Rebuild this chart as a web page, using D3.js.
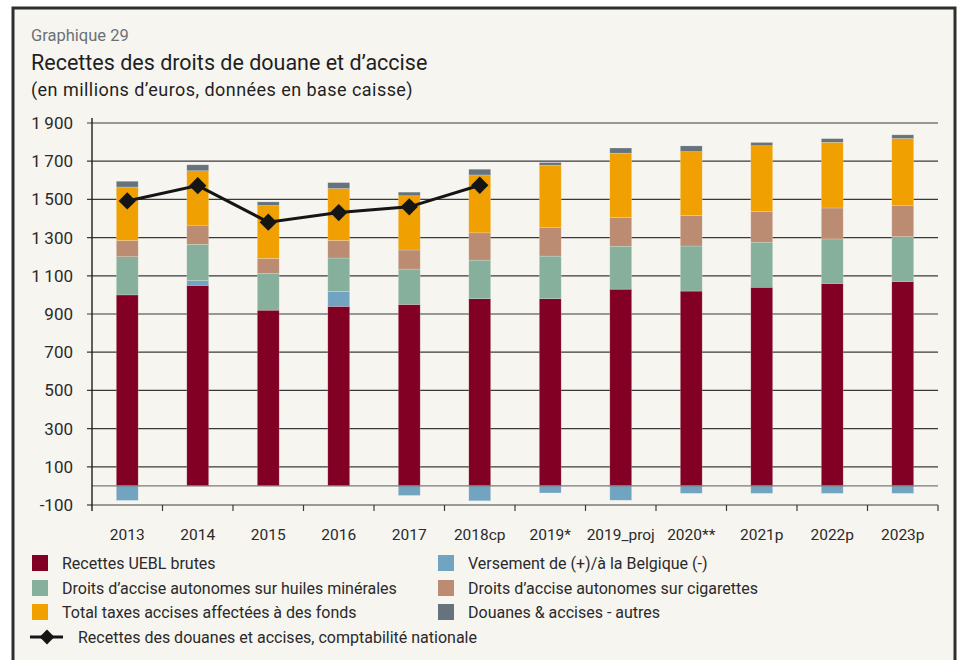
<!DOCTYPE html>
<html>
<head>
<meta charset="utf-8">
<script src="https://cdn.jsdelivr.net/npm/d3@7"></script>
<style>
    body { margin: 0; background: #ffffff; }
    svg { display: block; }
    text { font-family: Roboto, "Noto Sans", sans-serif; }
</style>
</head>
<body>
<script>
"use strict";

var categories = ["2013", "2014", "2015", "2016", "2017", "2018cp", "2019*", "2019_proj", "2020**", "2021p", "2022p", "2023p"];

var recettesUEBL = [1000, 1050, 920, 940, 950, 980, 980, 1030, 1020, 1040, 1060, 1070];
var versementBelgique = [-76, 25, 0, 78, -50, -78, -37, -75, -39, -39, -39, -39];
var huilesMinerales = [200, 190, 192, 175, 185, 202, 223, 225, 236, 236, 233, 235];
var cigarettes = [85, 100, 79, 92, 100, 143, 150, 151, 160, 161, 162, 162];
var taxesFonds = [280, 285, 277, 272, 284, 303, 326, 336, 334, 344, 344, 352];
var douanesAutres = [30, 31, 19, 31, 19, 30, 14, 27, 30, 17, 19, 19];

var lineCategories = ["2013", "2014", "2015", "2016", "2017", "2018cp"];
var comptaNationale = [1492, 1572, 1381, 1431, 1461, 1574];

var yTicks = [-100, 100, 300, 500, 700, 900, 1100, 1300, 1500, 1700, 1900];

var seriesNames = [
    "Recettes UEBL brutes",
    "Versement de (+)/à la Belgique (-)",
    "Droits d\u2019accise autonomes sur huiles minérales",
    "Droits d\u2019accise autonomes sur cigarettes",
    "Total taxes accises affectées à des fonds",
    "Douanes & accises - autres"
];
var lineName = "Recettes des douanes et accises, comptabilité nationale";
var colors = ["#820024", "#70a4c1", "#86b09b", "#bb8c72", "#f0a000", "#66737c"];

var width = 962,
    height = 660;

var svg = d3.select("body").append("svg")
    .attr("width", width)
    .attr("height", height);

// cadre
svg.append("rect")
    .attr("x", 13)
    .attr("y", 8)
    .attr("width", 942)
    .attr("height", 670)
    .attr("fill", "#f7f5f0")
    .attr("stroke", "#2e2e2e")
    .attr("stroke-width", 3);

svg.append("text").attr("x", 31).attr("y", 41)
    .attr("font-size", 16.5).attr("fill", "#6b7177")
    .text("Graphique 29");
svg.append("text").attr("x", 31).attr("y", 70)
    .attr("font-size", 21.5).attr("fill", "#1f1f1f")
    .text("Recettes des droits de douane et d\u2019accise");
svg.append("text").attr("x", 31).attr("y", 96)
    .attr("font-size", 18).attr("fill", "#1f1f1f")
    .attr("letter-spacing", 0.45)
    .text("(en millions d\u2019euros, données en base caisse)");

var plotLeft = 92, plotRight = 938, plotTop = 123, plotBottom = 505;

var x = d3.scaleBand()
    .domain(categories)
    .range([plotLeft, plotRight])
    .paddingInner(0.69)
    .paddingOuter(0.345);

var xBand = d3.scaleBand()
    .domain(categories)
    .range([plotLeft, plotRight]);

var y = d3.scaleLinear()
    .domain([-100, 1900])
    .range([plotBottom, plotTop]);

var fmt = function(v) {
    return d3.format(",")(v).replace(",", "\u2009");
};

// grille
svg.append("g").selectAll("line")
    .data(yTicks.filter(function(d) { return d > 0; }))
    .enter().append("line")
        .attr("x1", plotLeft - 5)
        .attr("x2", plotRight)
        .attr("y1", function(d) { return y(d); })
        .attr("y2", function(d) { return y(d); })
        .attr("stroke", "#3a3a3a")
        .attr("stroke-width", 1.2);

svg.append("g").selectAll("text")
    .data(yTicks)
    .enter().append("text")
        .attr("x", 73)
        .attr("y", function(d) { return y(d) + 6; })
        .attr("text-anchor", "end")
        .attr("font-size", 17)
        .attr("fill", "#2a2a2a")
        .text(function(d) { return d < 0 ? "-" + fmt(-d) : fmt(d); });

// barres empilées
var rows = categories.map(function(c, i) {
    return {
        cat: c,
        s0: recettesUEBL[i],
        s1: versementBelgique[i],
        s2: huilesMinerales[i],
        s3: cigarettes[i],
        s4: taxesFonds[i],
        s5: douanesAutres[i]
    };
});

var stack = d3.stack()
    .keys(["s0", "s1", "s2", "s3", "s4", "s5"])
    .offset(d3.stackOffsetDiverging);

var stacked = stack(rows);

svg.append("g").selectAll("g")
    .data(stacked)
    .enter().append("g")
        .attr("fill", function(d, i) { return colors[i]; })
        .selectAll("rect")
        .data(function(d) { return d; })
        .enter().append("rect")
            .attr("x", function(d) { return x(d.data.cat); })
            .attr("width", x.bandwidth())
            .attr("y", function(d) { return y(Math.max(d[0], d[1])); })
            .attr("height", function(d) { return Math.abs(y(d[0]) - y(d[1])); })
            .attr("stroke", "#f7f5f0")
            .attr("stroke-opacity", 0.35)
            .attr("stroke-width", 0.6);

// ligne zéro et axe
svg.append("line")
    .attr("x1", plotLeft).attr("x2", plotRight)
    .attr("y1", y(0)).attr("y2", y(0))
    .attr("stroke", "#7a7a7a").attr("stroke-width", 1.4);

svg.append("line")
    .attr("x1", plotLeft).attr("x2", plotRight)
    .attr("y1", y(-100)).attr("y2", y(-100))
    .attr("stroke", "#7a7a7a").attr("stroke-width", 1.4);

svg.append("line")
    .attr("x1", plotLeft - 5).attr("x2", plotLeft)
    .attr("y1", y(-100)).attr("y2", y(-100))
    .attr("stroke", "#3a3a3a").attr("stroke-width", 1.2);

svg.append("line")
    .attr("x1", plotLeft).attr("x2", plotLeft)
    .attr("y1", plotTop - 5).attr("y2", plotBottom + 6)
    .attr("stroke", "#1f1f1f").attr("stroke-width", 1.4);

svg.append("g").selectAll("line")
    .data(categories)
    .enter().append("line")
        .attr("x1", function(d) { return xBand(d) + xBand.bandwidth(); })
        .attr("x2", function(d) { return xBand(d) + xBand.bandwidth(); })
        .attr("y1", plotBottom)
        .attr("y2", plotBottom + 6)
        .attr("stroke", "#3a3a3a")
        .attr("stroke-width", 1.2);

svg.append("g").selectAll("text")
    .data(categories)
    .enter().append("text")
        .attr("x", function(d) { return xBand(d) + xBand.bandwidth() / 2; })
        .attr("y", 540)
        .attr("text-anchor", "middle")
        .attr("font-size", 15.5)
        .attr("fill", "#2a2a2a")
        .text(function(d) { return d; });

// ligne comptabilité nationale
var lineData = lineCategories.map(function(c, i) {
    return { cat: c, v: comptaNationale[i] };
});

var line = d3.line()
    .x(function(d) { return xBand(d.cat) + xBand.bandwidth() / 2; })
    .y(function(d) { return y(d.v); });

svg.append("path")
    .datum(lineData)
    .attr("d", line)
    .attr("fill", "none")
    .attr("stroke", "#151515")
    .attr("stroke-width", 3);

var diamond = d3.symbol().type(d3.symbolSquare).size(150);

svg.append("g").selectAll("path")
    .data(lineData)
    .enter().append("path")
        .attr("d", diamond)
        .attr("transform", function(d) {
            return "translate(" + (xBand(d.cat) + xBand.bandwidth() / 2) + "," + y(d.v) + ") rotate(45)";
        })
        .attr("fill", "#151515");

// légende
var legendPos = [
    [32, 563], [438, 563],
    [32, 588], [438, 588],
    [32, 612], [438, 612]
];

var legend = svg.append("g").selectAll("g")
    .data(seriesNames)
    .enter().append("g")
        .attr("transform", function(d, i) {
            return "translate(" + legendPos[i][0] + "," + legendPos[i][1] + ")";
        });

legend.append("rect")
    .attr("x", 0).attr("y", -8)
    .attr("width", 16).attr("height", 16)
    .attr("fill", function(d, i) { return colors[i]; });

legend.append("text")
    .attr("x", 30).attr("y", 5.5)
    .attr("font-size", 16)
    .attr("fill", "#2a2a2a")
    .text(function(d) { return d; });

var lineLegend = svg.append("g").attr("transform", "translate(30,637)");
lineLegend.append("line")
    .attr("x1", 0).attr("x2", 33)
    .attr("stroke", "#151515").attr("stroke-width", 3);
lineLegend.append("path")
    .attr("d", d3.symbol().type(d3.symbolSquare).size(110))
    .attr("transform", "translate(17,0) rotate(45)")
    .attr("fill", "#151515");
lineLegend.append("text")
    .attr("x", 48).attr("y", 5.5)
    .attr("font-size", 16)
    .attr("fill", "#2a2a2a")
    .text(lineName);
</script>
</body>
</html>
